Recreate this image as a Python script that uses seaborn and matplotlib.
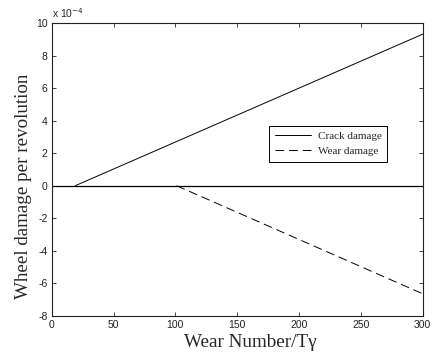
import matplotlib
matplotlib.use("Agg")
import matplotlib.pyplot as plt
import matplotlib.ticker as mticker
from matplotlib.lines import Line2D
import seaborn as sns
import pandas as pd

# Data (values in damage per revolution)
crack_x = [19, 300]
crack_y = [0.0, 9.33e-4]
wear_x = [101, 300]
wear_y = [0.0, -6.65e-4]
xticks = [0, 50, 100, 150, 200, 250, 300]
yticks = [-8, -6, -4, -2, 0, 2, 4, 6, 8, 10]
scale = 1e-4

sns.set_style("ticks")
plt.rcParams['font.family'] = ['Liberation Sans', 'DejaVu Sans']

df = pd.concat([
    pd.DataFrame({"x": crack_x, "y": crack_y, "series": "Crack damage"}),
    pd.DataFrame({"x": wear_x, "y": wear_y, "series": "Wear damage"}),
])

fig = plt.figure(figsize=(4.32, 3.56), dpi=100)
ax = fig.add_axes([0.1197, 0.1132, 0.8588, 0.8214])

sns.lineplot(data=df, x="x", y="y", hue="series", style="series",
             palette=["black", "black"], dashes=[(None, None), (9, 5)],
             linewidth=0.7, ax=ax, legend=False)
ax.axhline(0, color="black", linewidth=0.9)

ax.set_xlim(0, 300)
ax.set_ylim(-8 * scale, 10 * scale)
ax.set_xticks(xticks)
ax.set_yticks([v * scale for v in yticks])
ax.yaxis.set_major_formatter(mticker.FuncFormatter(lambda v, p: f"{v/scale:.0f}"))
ax.tick_params(direction="in", top=True, right=True, length=3, width=0.6,
               labelsize=7.5, pad=3, colors="#222222")
for s in ax.spines.values():
    s.set_linewidth(0.8)
    s.set_color("#222222")

serif = ['Liberation Serif', 'DejaVu Serif']
ax.set_xlabel("Wear Number/Tγ", family=serif, fontsize=13.8, labelpad=1)
ax.xaxis.set_label_coords(0.534, -0.062)
ax.set_ylabel("Wheel damage per revolution", family=serif, fontsize=13.7)
ax.yaxis.set_label_coords(-0.053, 0.442)

ax.text(0.0, 1.012, r"x 10$^{-4}$", transform=ax.transAxes, fontsize=7.5,
        ha="left", va="bottom")

handles = [Line2D([], [], color="black", lw=0.7),
           Line2D([], [], color="black", lw=0.7, dashes=(9, 5))]
leg = ax.legend(handles, ["Crack damage", "Wear damage"], loc="upper left",
                bbox_to_anchor=(0.586, 0.65), borderaxespad=0,
                prop={"family": serif, "size": 8.0},
                frameon=True, fancybox=False, edgecolor="black", framealpha=1,
                borderpad=0.5, handlelength=3.3, handletextpad=0.6,
                labelspacing=0.5)
leg.get_frame().set_linewidth(0.7)

fig.savefig("out.png", dpi=100)
